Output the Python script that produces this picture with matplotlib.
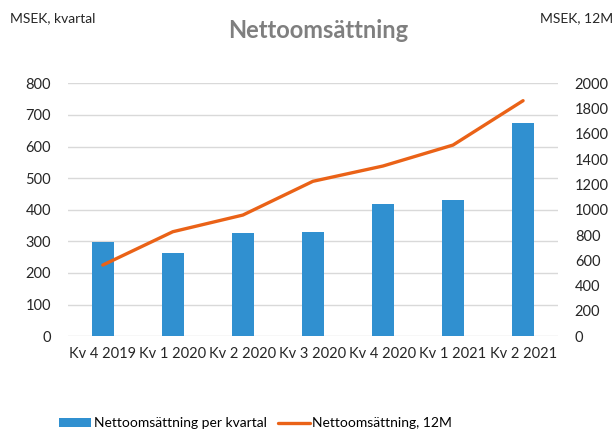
import numpy as np
import matplotlib.pyplot as plt

plt.rcParams['font.family'] = ['Lato', 'DejaVu Sans']

# data
kvartal = ['Kv 4 2019', 'Kv 1 2020', 'Kv 2 2020', 'Kv 3 2020',
           'Kv 4 2020', 'Kv 1 2021', 'Kv 2 2021']
per_kvartal = [298, 263, 327, 330, 417, 430, 675]
rullande_12m = [562, 826, 958, 1225, 1346, 1512, 1863]

fig = plt.figure(figsize=(6.16, 4.32), dpi=100)
ax = fig.add_axes([0.110, 0.222, 0.796, 0.585])
ax2 = ax.twinx()

x = np.arange(len(kvartal))
ax.bar(x, per_kvartal, width=0.31, color='#3090D0', zorder=2,
       label='Nettoomsättning per kvartal')
ax2.plot(x, rullande_12m, color='#EA6217', linewidth=2.4,
         solid_capstyle='round', zorder=3, label='Nettoomsättning, 12M')

ax.set_xlim(-0.5, len(kvartal) - 0.5)
ax.set_ylim(0, 800)
ax.set_yticks(np.arange(0, 801, 100))
ax2.set_ylim(0, 2000)
ax2.set_yticks(np.arange(0, 2001, 200))
ax.set_xticks(x)
ax.set_xticklabels(kvartal)

ax.grid(axis='y', color='#D9D9D9', linewidth=1, zorder=0)
ax.set_axisbelow(True)
for a in (ax, ax2):
    for s in a.spines.values():
        s.set_visible(False)
    a.tick_params(length=0, labelsize=10.5, colors='#262626')
ax.tick_params(axis='y', pad=12)
ax.tick_params(axis='x', pad=8)
ax2.tick_params(axis='y', pad=12)
ax.set_zorder(ax2.get_zorder() - 1)
ax2.patch.set_visible(False)
ax.patch.set_visible(False)

fig.text(0.516, 0.93, 'Nettoomsättning', ha='center', va='center',
         fontsize=17, fontweight='bold', color='#7F7F7F')
fig.text(0.016, 0.958, 'MSEK, kvartal', ha='left', va='center',
         fontsize=10, color='#262626')
fig.text(0.995, 0.958, 'MSEK, 12M', ha='right', va='center',
         fontsize=10, color='#262626')

h1, l1 = ax.get_legend_handles_labels()
h2, l2 = ax2.get_legend_handles_labels()
fig.legend(h1 + h2, l1 + l2, loc='center', bbox_to_anchor=(0.415, 0.02),
           ncol=2, frameon=False, fontsize=10, handlelength=2.3,
           handleheight=0.6, columnspacing=0.8, handletextpad=0.2)

fig.savefig('out.png', dpi=100)
